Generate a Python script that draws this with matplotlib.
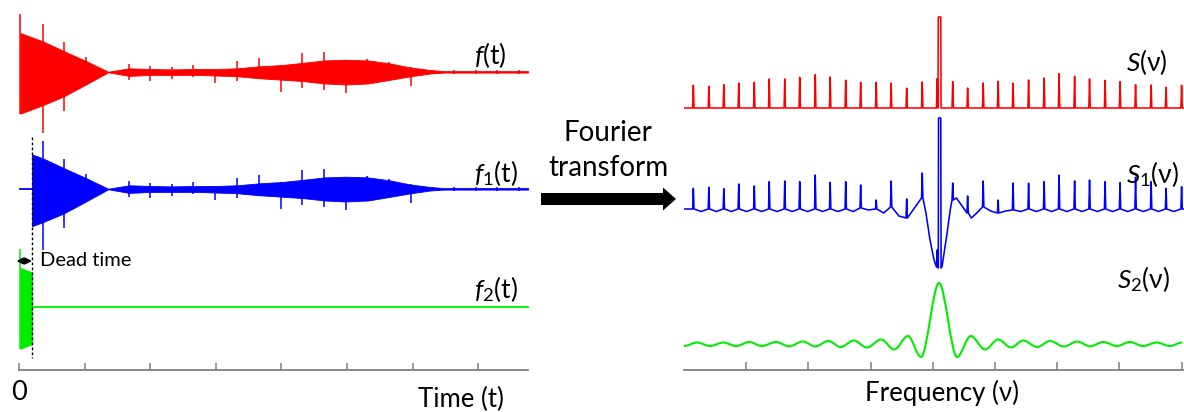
import numpy as np
import matplotlib
matplotlib.use("Agg")
import matplotlib.pyplot as plt
from matplotlib.path import Path
from matplotlib.patches import PathPatch, FancyArrow

plt.rcParams['font.family'] = ['Lato', 'DejaVu Sans']
plt.rcParams['mathtext.fontset'] = 'custom'
plt.rcParams['mathtext.it'] = 'Lato:italic'
plt.rcParams['mathtext.rm'] = 'Lato'

RED, BLUE, GREEN, GRAY = '#FF0000', '#0000FF', '#00EE00', '#7F7F7F'

# ---------------- time-domain data (t in tick units, amplitudes in px) -------------
env_t = np.array([0.02, 0.37, 0.68, 1.02, 1.36, 1.68, 2.02, 2.33, 2.67, 2.99, 3.32,
                  3.67, 4.01, 4.33, 4.66, 4.98, 5.32, 5.64, 5.95, 6.27, 6.48, 7.76])
env_up = np.array([39, 30.5, 21, 11, 0.3, 3.7, 3, 2.6, 3, 3, 3.7,
                   5.7, 7, 9.2, 11.6, 12.3, 11.6, 8.8, 4.7, 2, 0.9, 0.9])
env_low = np.array([41.7, 33, 24.5, 12.5, 0.3, 3.9, 2.9, 2.9, 2.9, 3.5, 4.2,
                    6.3, 7.7, 9.1, 11.5, 12.5, 11.5, 8, 4.5, 1.5, 0.6, 0.6])
spike_t = np.array([0.02, 0.36, 0.68, 1.02, 1.35, 1.68, 2.0, 2.33, 2.66, 2.99, 3.32, 3.66,
                    4.0, 4.32, 4.65, 4.98, 5.31, 5.64, 5.97, 6.3, 6.63, 6.96, 7.29, 7.62])
spike_up = np.array([57.8, 48.5, 30, 14.8, 0, 8, 6, 5, 7, 3, 11.4, 14,
                     7, 19.3, 20, 12.3, 13, 9.6, 4.7, 2, 2, 2, 2, 2])
spike_down = np.array([41.7, 61, 38.5, 12.7, 0, 7.5, 8.6, 6.5, 5, 11, 9.3, 6.5,
                       20.3, 15.5, 17.9, 21.3, 11.7, 8, 14.4, 2, 2, 2, 2, 2])
t_dead = 0.2
time_ticks = [0, 1, 2, 3, 4, 5, 6, 7]
time_ticklabels = ['0', '', '', '', '', '', '', '']

# ---------------- frequency-domain data (nu in tick units, heights in px) ----------
comb_nu = np.array([0.15, 0.40, 0.64, 0.88, 1.13, 1.37, 1.62, 1.86, 2.11, 2.35, 2.60,
                    2.84, 3.09, 3.33, 3.58, 3.83, 4.07, 4.32, 4.56, 4.81, 5.05, 5.29,
                    5.54, 5.79, 6.03, 6.28, 6.52, 6.77, 7.01, 7.26, 7.51, 7.75, 8.00])
S_height = np.array([22.7, 21.7, 23.3, 25, 25.7, 29, 29, 30.7, 33.3, 31, 27.7,
                     25.7, 25.7, 25, 19.7, 26, 29.3, 26.3, 20, 25, 26.7, 25,
                     28, 30, 34.3, 31.7, 29, 27.7, 26.3, 23.3, 23, 20.7, 22.7])
S_center_nu = np.array([4.083, 4.088, 4.128, 4.133])
S_center_h = np.array([0, 91, 91, 0])

# S1: spike heights above their own base, base levels, mid-gap levels, centre detail
S1_height = np.array([20.7, 21.7, 20.3, 25, 23, 27.3, 28, 27.3, 34, 26.7, 27.3,
                      23, 9, 26, 19, 25, 17, 17, 17, 26, 13, 27,
                      25.7, 27.3, 34, 28, 29, 27.3, 26.3, 31.7, 27.3, 20.7, 22.3])
S1_base = np.array([0, 0, 0, 0, 0, 0, 0, 0, 0, 0, 0,
                    1, 0, 2, -9, 11, -58, 9, -4, 2, -4, -1,
                    0, 0, 0, 0, 0, 0, 0, 0, 0, 0, 0])
S1_mid = np.array([-2.5, -2.5, -2.5, -2.5, -2.5, -2.5, -2.5, -2.5, -2.5, -2.5, -2.5,
                   -1, -4, -7, 1, np.nan, np.nan, np.nan, np.nan, -2, -2, -2.5,
                   -2.5, -2.5, -2.5, -2.5, -2.5, -2.5, -2.5, -2.5, -2.5, -2.5])
S1_extra_nu = np.array([3.89, 3.955, 4.02, 4.088, 4.092, 4.128, 4.133, 4.15, 4.23,
                        4.28, 4.38, 4.47, 4.62, 4.69])
S1_extra_h = np.array([-4, -31, -51, -59, 91, 91, -59, -57, -24,
                       -1, 11, 3, -9, -5])

S2_nu = np.array([0.00, 0.21, 0.42, 0.63, 0.84, 1.05, 1.25, 1.48, 1.69, 1.91,
                  2.11, 2.32, 2.52, 2.73, 2.94, 3.17, 3.38, 3.60, 3.81, 4.10,
                  4.39, 4.61, 4.84, 5.05, 5.26, 5.45, 5.68, 5.88, 6.11, 6.32,
                  6.53, 6.74, 6.96, 7.17, 7.38, 7.60, 7.81, 8.01])
S2_amp = np.array([-1, 2.5, -1, 2.5, -1, 3, -1, 3, -1.3, 3.5,
                   -1.5, 4, -2, 4.5, -2.5, 5.5, -4.5, 9, -12, 62,
                   -12, 9, -4.5, 5.5, -2.5, 4.5, -2, 4, -1.5, 3.5,
                   -1.3, 3, -1, 3, -1, 2.5, -1, 2.5])
freq_ticks = [1, 2, 3, 4, 5, 6, 7, 8]

# ---------------- layout ----------------
W, H = 1184, 412
fig = plt.figure(figsize=(W / 100, H / 100), dpi=100)

AX_ROW = 370  # pixel row of both horizontal axes
base_f, base_f1, base_f2 = 72, 189, 307
base_S, base_S1, base_S2 = 108, 209, 345

axL = fig.add_axes([10 / W, (H - AX_ROW) / H, 525 / W, AX_ROW / H])
axL.set_xlim((10 - 19) / 65.6, (535 - 19) / 65.6)
axL.set_ylim(AX_ROW, 0)
axR = fig.add_axes([684 / W, (H - AX_ROW) / H, 500 / W, AX_ROW / H])
axR.set_xlim(0, 500 / 62.2)
axR.set_ylim(AX_ROW, 0)

for ax, bounds, ticks, tl in [(axL, (0, 7.76), time_ticks, 5),
                              (axR, (0, 8.03), freq_ticks, 6)]:
    for s in ['top', 'left', 'right']:
        ax.spines[s].set_visible(False)
    ax.spines['bottom'].set_color(GRAY)
    ax.spines['bottom'].set_linewidth(1.3)
    ax.spines['bottom'].set_bounds(*bounds)
    ax.set_yticks([])
    ax.set_xticks(ticks)
    ax.tick_params(axis='x', direction='in', length=tl, width=1.1, color=GRAY,
                   labelsize=19.5, pad=7)
    ax.patch.set_visible(False)
axL.set_xticklabels(time_ticklabels)
axR.set_xticklabels([])

# ---- f(t)
axL.fill_between(env_t, base_f - env_up, base_f + env_low, color=RED, lw=0.6)
axL.vlines(spike_t, base_f - spike_up, base_f + spike_down, color=RED, lw=1.1)

# ---- f1(t): f(t) after the dead time
up_d = np.interp(t_dead, env_t, env_up)
low_d = np.interp(t_dead, env_t, env_low)
m = env_t > t_dead
t1 = np.r_[t_dead, env_t[m]]
axL.fill_between(t1, base_f1 - np.r_[up_d, env_up[m]], base_f1 + np.r_[low_d, env_low[m]],
                 color=BLUE, lw=0.6)
ms = spike_t > t_dead
axL.vlines(spike_t[ms], base_f1 - spike_up[ms], base_f1 + spike_down[ms], color=BLUE, lw=1.1)
axL.plot([env_t[0], t_dead], [base_f1, base_f1], color=BLUE, lw=1.3)

# ---- f2(t): f(t) during the dead time only
m2 = env_t < t_dead
t2 = np.r_[env_t[m2], t_dead]
axL.fill_between(t2, base_f2 - np.r_[env_up[m2], up_d], base_f2 + np.r_[env_low[m2], low_d],
                 color=GREEN, lw=0.6)
ms2 = spike_t < t_dead
axL.vlines(spike_t[ms2], base_f2 - spike_up[ms2], base_f2 + spike_down[ms2], color=GREEN, lw=1.1)
axL.plot([t_dead, env_t[-1]], [base_f2, base_f2], color=GREEN, lw=1.3)

# dead time marker
axL.plot([t_dead, t_dead], [137, 358], color='black', lw=1.0, ls=(0, (2, 1.6)))
axL.annotate('', xy=(-0.04, 261), xytext=(t_dead, 261),
             arrowprops=dict(arrowstyle='<|-|>', lw=1.5, color='black',
                             mutation_scale=9, shrinkA=0, shrinkB=0))

# ---- spectra
HW = 0.011


def comb_line(nu, height, base, extra_nu=(), extra_y=(), mid=None):
    pts = []
    for i, (p, h) in enumerate(zip(nu, height)):
        pts += [(p - HW, base[i]), (p, base[i] - h), (p + HW, base[i])]
        if mid is not None and i < len(mid) and not np.isnan(mid[i]):
            pts.append(((p + nu[i + 1]) / 2, mid[i]))
    pts += list(zip(extra_nu, extra_y))
    pts.sort(key=lambda q: q[0])
    xs = [0.0] + [q[0] for q in pts] + [8.03]
    ys = [pts[0][1]] + [q[1] for q in pts] + [pts[-1][1]]
    return xs, ys


xs, ys = comb_line(comb_nu, S_height, np.full(comb_nu.shape, float(base_S)),
                   S_center_nu, base_S - S_center_h)
axR.plot(xs, ys, color=RED, lw=1.15)

xs, ys = comb_line(comb_nu, S1_height, base_S1 - S1_base,
                   S1_extra_nu, base_S1 - S1_extra_h, mid=base_S1 - S1_mid)
axR.plot(xs, ys, color=BLUE, lw=1.15)

# S2: smooth curve through the read extrema
verts = [(S2_nu[0], base_S2 - S2_amp[0])]
codes = [Path.MOVETO]
for i in range(1, len(S2_nu)):
    x0, x1 = S2_nu[i - 1], S2_nu[i]
    y0, y1 = base_S2 - S2_amp[i - 1], base_S2 - S2_amp[i]
    dx = x1 - x0
    verts += [(x0 + dx / 3, y0), (x1 - dx / 3, y1), (x1, y1)]
    codes += [Path.CURVE4] * 3
axR.add_patch(PathPatch(Path(verts, codes), fill=False, ec=GREEN, lw=1.5))

# ---------------- overlay: labels and arrow (pixel coordinates) ----------------
axO = fig.add_axes([0, 0, 1, 1])
axO.set_xlim(0, W)
axO.set_ylim(H, 0)
axO.axis('off')

lab = dict(fontsize=19, ha='left', va='baseline')
axO.text(474, 64, r'$f$(t)', **lab)
axO.text(474, 182, r'$f_{\mathrm{1}}$(t)', **lab)
axO.text(474, 298, r'$f_{\mathrm{2}}$(t)', **lab)
axO.text(1126, 71, r'$S$(ν)', **lab)
axO.text(1126, 183, r'$S_{\mathrm{1}}$(ν)', **lab)
axO.text(1117, 288, r'$S_{\mathrm{2}}$(ν)', **lab)

axO.text(40, 261, 'Dead time', fontsize=14.5, ha='left', va='center')
axO.text(461, 407, 'Time (t)', fontsize=18.5, ha='center', va='baseline')
axO.text(942, 401, 'Frequency (ν)', fontsize=18.5, ha='center', va='baseline')
axO.text(608, 133, 'Fourier', fontsize=20, ha='center', va='center')
axO.text(608, 168, 'transform', fontsize=20, ha='center', va='center')
axO.add_patch(FancyArrow(541, 199, 135, 0, width=12, head_width=23, head_length=13,
                         length_includes_head=True, color='black', lw=0))

fig.savefig('out.png', dpi=100)
